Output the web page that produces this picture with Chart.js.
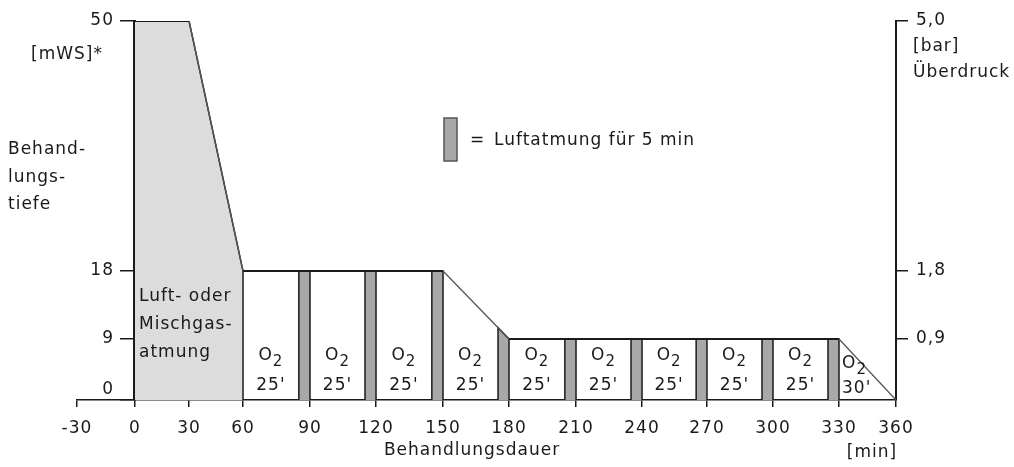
<!DOCTYPE html>
<html>
<head>
<meta charset="utf-8">
<script src="https://cdn.jsdelivr.net/npm/chart.js@4.4.1/dist/chart.umd.min.js"></script>
<style>
  body { margin: 0; background: #fff; }
  #wrap { width: 1014px; height: 467px; }
</style>
</head>
<body>
<div id="wrap"><canvas id="schema"></canvas></div>
<script>
// tick values
const timeTicks = [-30, 0, 30, 60, 90, 120, 150, 180, 210, 240, 270, 300, 330, 360];
const depthTicks = [0, 9, 18, 50];
const pressureTicks = [0.9, 1.8, 5.0];

// depth profile (min / mWS)
const profileTime = [0, 30, 60, 150, 180, 330, 360];
const profileDepth = [50, 50, 18, 18, 9, 9, 0];

// air or mixed gas phase, shaded grey
const airTime = [0, 30, 60, 60];
const airDepth = [50, 50, 18, 0];

// 5 min air breaks
const breakStart = [85, 115, 145, 175, 205, 235, 265, 295, 325];
const breakEnd = [90, 120, 150, 180, 210, 240, 270, 300, 330];
const breakTopStart = [18, 18, 18, 10.5, 9, 9, 9, 9, 9];
const breakTopEnd = [18, 18, 18, 9, 9, 9, 9, 9, 9];

// oxygen periods
const o2Start = [60, 90, 120, 150, 180, 210, 240, 270, 300, 330];
const o2End = [85, 115, 145, 175, 205, 235, 265, 295, 325, 360];
const o2Minutes = ["25'", "25'", "25'", "25'", "25'", "25'", "25'", "25'", "25'", "30'"];

// the drawing is not to scale: where each tick sits along its axis (0..1)
const axisStops = {
  x: [[-30, 0], [0, 0.0708], [30, 0.1368], [60, 0.2027], [90, 0.2845], [120, 0.3651], [150, 0.4469],
      [180, 0.5275], [210, 0.6093], [240, 0.6899], [270, 0.7692], [300, 0.8498], [330, 0.9304], [360, 1]],
  y: [[0, 0], [9, 0.161], [18, 0.3404], [50, 1]],
  y2: [[0, 0], [0.9, 0.161], [1.8, 0.3404], [5, 1]]
};
// y sits inside the plot at x = 0, push its labels left of the ticks
const labelShift = {y: -21};

class StopScale extends Chart.LinearScale {
  static id = 'stops';
  static defaults = {};

  toDecimal(v) {
    const s = axisStops[this.id];
    if (v <= s[0][0]) return s[0][1];
    for (let i = 1; i < s.length; i++) {
      if (v <= s[i][0]) {
        const [v0, d0] = s[i - 1];
        const [v1, d1] = s[i];
        return d0 + (v - v0) / (v1 - v0) * (d1 - d0);
      }
    }
    return s[s.length - 1][1];
  }

  getPixelForValue(v) {
    if (v === null || isNaN(v)) return NaN;
    return this.getPixelForDecimal(this.toDecimal(v));
  }

  getValueForPixel(px) {
    const d = this.getDecimalForPixel(px);
    const s = axisStops[this.id];
    for (let i = 1; i < s.length; i++) {
      if (d <= s[i][1]) {
        const [v0, d0] = s[i - 1];
        const [v1, d1] = s[i];
        return v0 + (d - d0) / (d1 - d0) * (v1 - v0);
      }
    }
    return s[s.length - 1][0];
  }

  _computeLabelItems(chartArea) {
    const items = super._computeLabelItems(chartArea);
    const shift = labelShift[this.id] || 0;
    items.forEach(it => { it.options.translation[0] += shift; });
    return items;
  }
}
Chart.register(StopScale);

const FONT = 'DejaVu Sans';
const INK = '#1a1a1a';
const pts = (xs, ys) => xs.map((x, i) => ({x: x, y: ys[i]}));

const datasets = [];

datasets.push({
  label: 'Luft- oder Mischgasatmung',
  data: pts(airTime, airDepth),
  borderColor: INK,
  borderWidth: 1.5,
  backgroundColor: '#dcdcdc',
  fill: 'origin',
  pointRadius: 0,
  order: 3
});

breakStart.forEach((s, i) => {
  datasets.push({
    label: 'Luftatmung',
    data: pts([s, s, breakEnd[i], breakEnd[i]], [0, breakTopStart[i], breakTopEnd[i], 0]),
    borderColor: INK,
    borderWidth: 1.5,
    backgroundColor: '#a8a8a8',
    fill: 'origin',
    pointRadius: 0,
    order: 2
  });
});

datasets.push({
  label: 'Profil',
  data: pts(profileTime, profileDepth),
  borderColor: INK,
  borderWidth: 2,
  fill: false,
  pointRadius: 0,
  order: 1,
  segment: {
    borderColor: ctx => ctx.p0.parsed.y !== ctx.p1.parsed.y ? '#555' : undefined,
    borderWidth: ctx => ctx.p0.parsed.y !== ctx.p1.parsed.y ? 1.3 : undefined
  }
});

const textPlugin = {
  id: 'schemaText',
  beforeDraw(chart) {
    // the lettering in the original is set wide
    chart.ctx.letterSpacing = '1px';
  },
  afterDatasetsDraw(chart) {
    const {ctx, scales: {x}} = chart;
    ctx.save();
    ctx.fillStyle = INK;
    ctx.textBaseline = 'middle';

    // O2 labels in every oxygen period
    o2Start.forEach((s, i) => {
      const last = i === o2Start.length - 1;
      const x0 = x.getPixelForValue(s);
      const x1 = x.getPixelForValue(o2End[i]);
      ctx.font = '17px "' + FONT + '"';
      const wO = ctx.measureText('O').width;
      ctx.font = '15px "' + FONT + '"';
      const w2 = ctx.measureText('2').width;
      const left = last ? x0 + 3 : (x0 + x1) / 2 - (wO + w2) / 2;
      const yO = last ? 364 : 356;
      ctx.textAlign = 'left';
      ctx.font = '17px "' + FONT + '"';
      ctx.fillText('O', left, yO);
      ctx.font = '15px "' + FONT + '"';
      ctx.fillText('2', left + wO, yO + 6);
      ctx.font = '17px "' + FONT + '"';
      if (last) {
        ctx.fillText(o2Minutes[i], left, 389);
      } else {
        ctx.textAlign = 'center';
        ctx.fillText(o2Minutes[i], (x0 + x1) / 2, 386);
      }
    });

    ctx.textAlign = 'left';
    ctx.font = '17px "' + FONT + '"';
    ['Luft- oder', 'Mischgas-', 'atmung'].forEach((t, i) => ctx.fillText(t, 139, 297 + i * 28));
    ctx.restore();
  },
  afterDraw(chart) {
    const {ctx} = chart;
    ctx.save();
    ctx.fillStyle = INK;
    ctx.textBaseline = 'middle';
    ctx.font = '17px "' + FONT + '"';

    ctx.textAlign = 'right';
    ctx.fillText('[mWS]*', 103, 55);

    ctx.textAlign = 'left';
    ['Behand-', 'lungs-', 'tiefe'].forEach((t, i) => ctx.fillText(t, 8, 150 + i * 27.5));
    ctx.fillText('[bar]', 913, 47);
    ctx.fillText('Überdruck', 913, 73);

    ctx.textAlign = 'center';
    ctx.fillText('[min]', 872, 453);
    ctx.fillText('Behandlungsdauer', 472, 451);

    // legend swatch for the air breaks
    ctx.fillStyle = '#a8a8a8';
    ctx.fillRect(444, 118, 13, 43);
    ctx.strokeStyle = '#555';
    ctx.lineWidth = 1.5;
    ctx.strokeRect(444, 118, 13, 43);
    ctx.fillStyle = INK;
    ctx.textAlign = 'left';
    ctx.fillText('=', 470, 141);
    ctx.fillText('Luftatmung für 5 min', 494, 141);
    ctx.restore();
  }
};

const tickFont = {family: FONT, size: 17};

new Chart(document.getElementById('schema'), {
  type: 'line',
  data: {datasets: datasets},
  plugins: [textPlugin],
  options: {
    responsive: true,
    maintainAspectRatio: false,
    animation: false,
    layout: {padding: {left: 77, top: 21, right: 0, bottom: 0}},
    plugins: {legend: {display: false}, tooltip: {enabled: false}},
    scales: {
      x: {
        type: 'stops',
        min: -30,
        max: 360,
        afterBuildTicks: s => { s.ticks = timeTicks.map(v => ({value: v})); },
        afterFit: s => { s.height = 67; },
        ticks: {font: tickFont, color: INK, padding: 11, maxRotation: 0, autoSkip: false, callback: v => String(v)},
        grid: {drawOnChartArea: false, tickLength: 7, color: INK, lineWidth: 1.5},
        border: {color: INK, width: 1.5}
      },
      y: {
        type: 'stops',
        position: {x: 0},
        min: 0,
        max: 50,
        afterBuildTicks: s => { s.ticks = depthTicks.map(v => ({value: v})); },
        ticks: {font: tickFont, color: INK, padding: 8, autoSkip: false,
          callback: v => v === 0 ? ['0', ''] : String(v)},
        grid: {drawOnChartArea: false, tickLength: 13, color: INK, lineWidth: 1.5},
        border: {color: INK, width: 3}
      },
      y2: {
        type: 'stops',
        position: 'right',
        min: 0,
        max: 5,
        afterBuildTicks: s => { s.ticks = pressureTicks.map(v => ({value: v})); },
        afterFit: s => { s.width = 118; },
        ticks: {font: tickFont, color: INK, padding: 8, autoSkip: false,
          callback: v => v.toFixed(1).replace('.', ',')},
        grid: {drawOnChartArea: false, tickLength: 12, color: INK, lineWidth: 1.5},
        border: {color: INK, width: 2}
      }
    }
  }
});
</script>
</body>
</html>
